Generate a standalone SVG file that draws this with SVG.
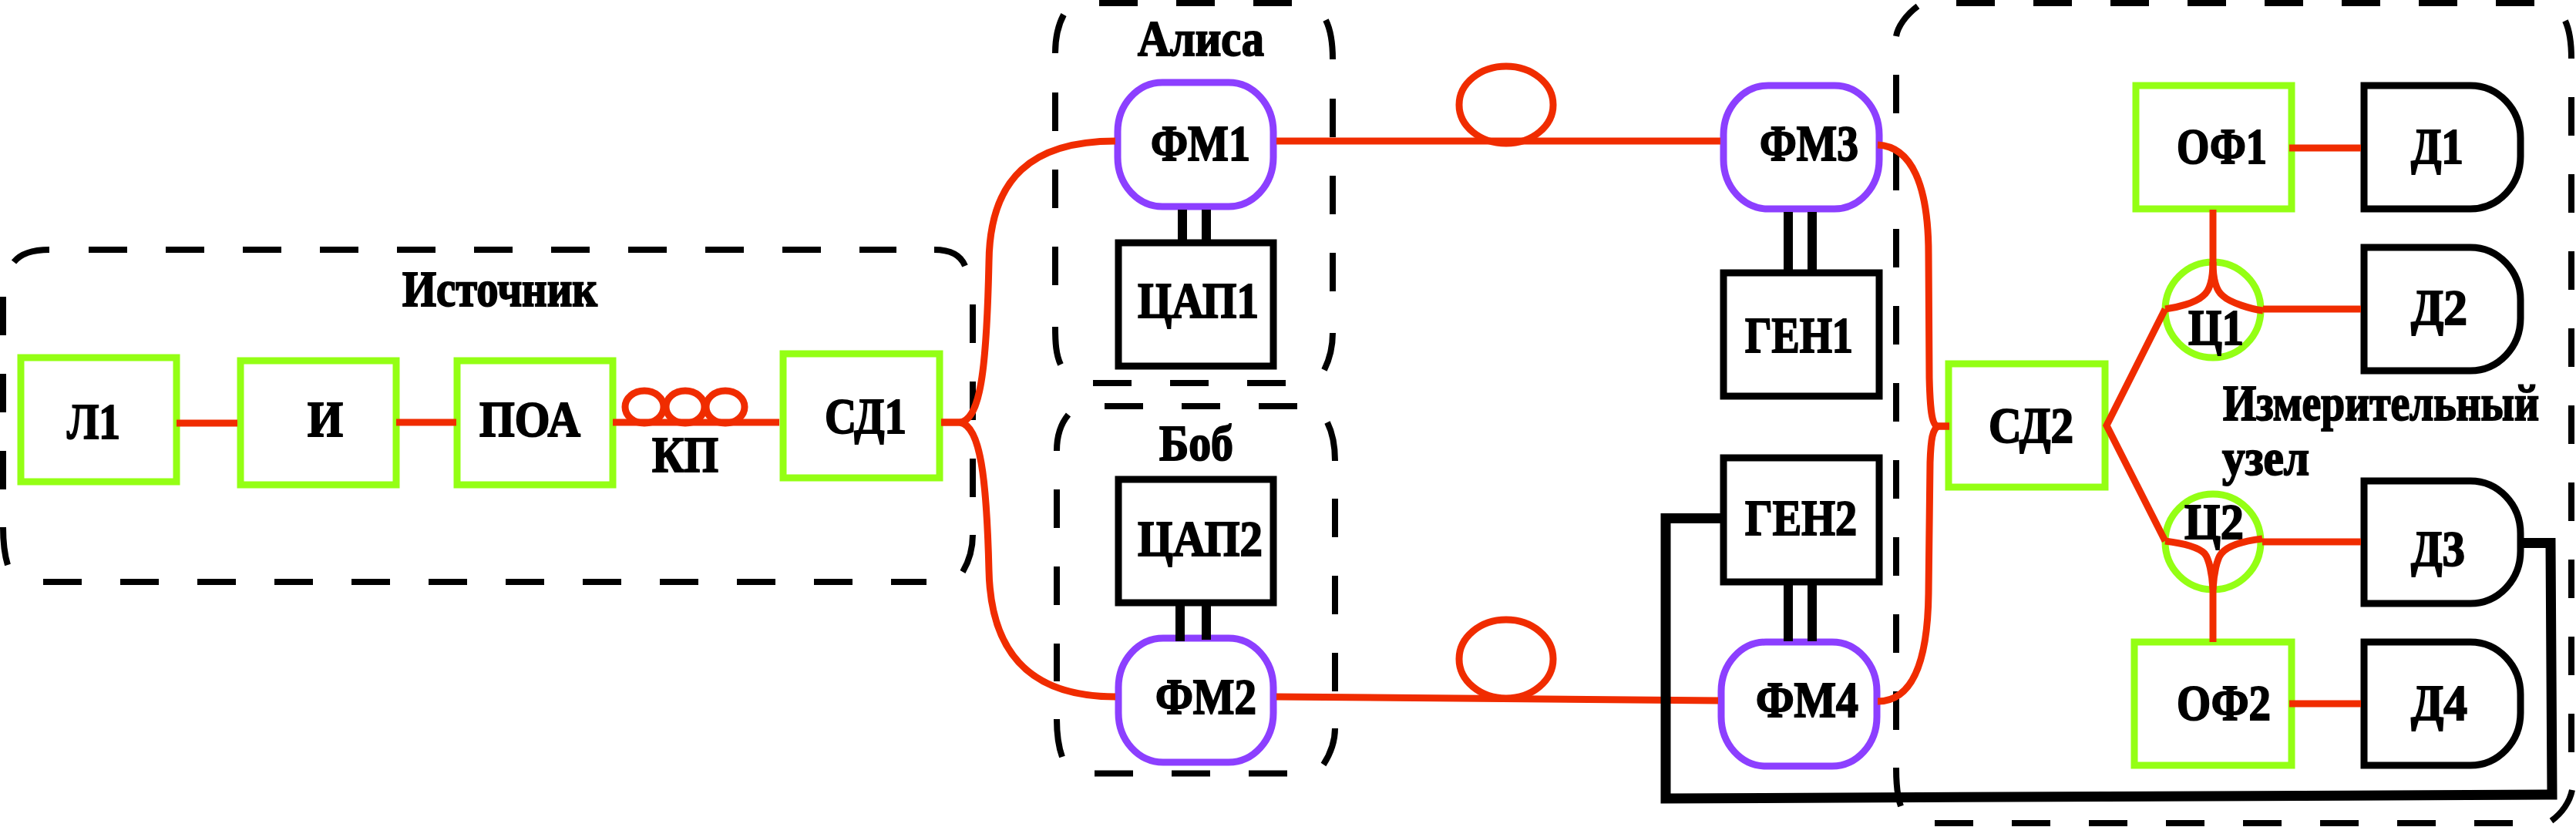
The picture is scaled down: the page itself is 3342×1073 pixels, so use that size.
<svg xmlns="http://www.w3.org/2000/svg" width="3342" height="1073" viewBox="0 0 3342 1073">
<style>
.t{font-family:"Liberation Serif","Times New Roman",serif;font-weight:700;font-size:66px;fill:#000;stroke:#000;stroke-width:2px}
.g{fill:none;stroke:#94ff14;stroke-width:9}
.p{fill:none;stroke:#8c3fff;stroke-width:9}
.k{fill:none;stroke:#000;stroke-width:9}
.d{fill:none;stroke:#000;stroke-width:8;stroke-dasharray:50 50}
.a{fill:none;stroke:#000;stroke-width:8}
.r{fill:none;stroke:#f02c00;stroke-width:9}
.w{fill:none;stroke:#000;stroke-width:12}
.b{fill:none;stroke:#000;stroke-width:13;stroke-linejoin:miter}
</style>
<rect width="3342" height="1073" fill="#fff"/>
<g id="source-box">
<path class="d" d="M115 324H1163"/><path class="d" d="M56 755H1202"/>
<path class="d" d="M4 385V650"/><path class="d" d="M1262 395V660"/>
<path class="a" d="M64 324C40 324 26 330 18 340"/><path class="a" d="M1212 324C1232 324 1246 330 1252 345"/>
<path class="a" d="M4 684C4 705 6 720 10 733"/><path class="a" d="M1262 694C1262 712 1256 730 1249 742"/>
<text class="t" x="522" y="397" textLength="253" lengthAdjust="spacingAndGlyphs">Источник</text>
</g>
<g id="alice-box">
<path class="d" d="M1426 4H1680"/><path class="d" d="M1418 497H1672"/>
<path class="d" d="M1369 120V373"/><path class="d" d="M1729 128V380"/>
<path class="a" d="M1380 19C1372 34 1369 50 1369 69"/><path class="a" d="M1720 26C1727 40 1729 58 1729 77"/>
<path class="a" d="M1369 424C1369 445 1370 460 1376 473"/><path class="a" d="M1729 432C1729 450 1725 466 1718 480"/>
<text class="t" x="1476" y="72" textLength="164" lengthAdjust="spacingAndGlyphs">Алиса</text>
</g>
<g id="bob-box">
<path class="d" d="M1433 527H1683"/><path class="d" d="M1420 1003.500H1670"/>
<path class="d" d="M1371 635V884"/><path class="d" d="M1732 647V897"/>
<path class="a" d="M1386 538C1376 550 1371 565 1371 585"/><path class="a" d="M1722 548C1729 562 1732 578 1732 598"/>
<path class="a" d="M1371 933C1371 952 1373 968 1378 982"/><path class="a" d="M1732 945C1732 962 1726 978 1717 992"/>
<text class="t" x="1504" y="597" textLength="96" lengthAdjust="spacingAndGlyphs">Боб</text>
</g>
<g id="measure-box">
<path class="d" d="M2538 4H3288"/><path class="d" d="M2510 1068H3260"/>
<path class="d" d="M2460 97V947"/><path class="d" d="M3336 126V976"/>
<path class="a" d="M2488 8C2472 20 2462 35 2460 47"/><path class="a" d="M3328 27C3334 40 3336 58 3336 76"/>
<path class="a" d="M2460 996C2460 1020 2462 1035 2466 1046"/><path class="a" d="M3337 1025C3334 1040 3324 1055 3310 1065"/>
<text class="t" x="2884" y="545" textLength="410" lengthAdjust="spacingAndGlyphs">Измерительный</text>
<text class="t" x="2883" y="616" textLength="113" lengthAdjust="spacingAndGlyphs">узел</text>
</g>
<g id="L1"><rect class="g" x="27" y="464" width="202" height="161"/><text class="t" x="87" y="569" textLength="69" lengthAdjust="spacingAndGlyphs">Л1</text></g>
<g id="I"><rect class="g" x="312" y="468" width="202" height="161"/><text class="t" x="399" y="566" textLength="46" lengthAdjust="spacingAndGlyphs">И</text></g>
<g id="POA"><rect class="g" x="593" y="468" width="202" height="161"/><text class="t" x="622" y="566" textLength="131" lengthAdjust="spacingAndGlyphs">ПОА</text></g>
<g id="KP"><text class="t" x="846" y="612" textLength="86" lengthAdjust="spacingAndGlyphs">КП</text></g>
<g id="SD1"><rect class="g" x="1016" y="459" width="203" height="161"/><text class="t" x="1070" y="562" textLength="106" lengthAdjust="spacingAndGlyphs">СД1</text></g>
<g id="FM1"><rect class="p" x="1450" y="107" width="202" height="161" rx="58" ry="64"/><text class="t" x="1493" y="208" textLength="129" lengthAdjust="spacingAndGlyphs">ФМ1</text></g>
<g id="DAC1"><rect class="k" x="1451" y="315" width="201" height="160"/><text class="t" x="1476" y="412" textLength="157" lengthAdjust="spacingAndGlyphs">ЦАП1</text></g>
<g id="DAC2"><rect class="k" x="1451" y="622" width="201" height="160"/><text class="t" x="1476" y="721" textLength="162" lengthAdjust="spacingAndGlyphs">ЦАП2</text></g>
<g id="FM2"><rect class="p" x="1451" y="828" width="201" height="161" rx="58" ry="64"/><text class="t" x="1499" y="926" textLength="131" lengthAdjust="spacingAndGlyphs">ФМ2</text></g>
<g id="FM3"><rect class="p" x="2236" y="111" width="202" height="160" rx="58" ry="64"/><text class="t" x="2283" y="208" textLength="128" lengthAdjust="spacingAndGlyphs">ФМ3</text></g>
<g id="GEN1"><rect class="k" x="2236" y="354" width="202" height="160"/><text class="t" x="2264" y="457" textLength="140" lengthAdjust="spacingAndGlyphs">ГЕН1</text></g>
<g id="GEN2"><rect class="k" x="2236" y="594" width="202" height="161"/><text class="t" x="2264" y="694" textLength="145" lengthAdjust="spacingAndGlyphs">ГЕН2</text></g>
<g id="FM4"><rect class="p" x="2233" y="833" width="202" height="161" rx="58" ry="64"/><text class="t" x="2278" y="930" textLength="133" lengthAdjust="spacingAndGlyphs">ФМ4</text></g>
<g id="SD2"><rect class="g" x="2528" y="472" width="203" height="160"/><text class="t" x="2580" y="574" textLength="110" lengthAdjust="spacingAndGlyphs">СД2</text></g>
<g id="OF1"><rect class="g" x="2771" y="111" width="202" height="160"/><text class="t" x="2824" y="212" textLength="117" lengthAdjust="spacingAndGlyphs">ОФ1</text></g>
<g id="OF2"><rect class="g" x="2769" y="833" width="204" height="160"/><text class="t" x="2824" y="934" textLength="122" lengthAdjust="spacingAndGlyphs">ОФ2</text></g>
<g id="C1"><circle class="g" cx="2871" cy="402" r="62"/><text class="t" x="2839" y="447" textLength="72" lengthAdjust="spacingAndGlyphs">Ц1</text></g>
<g id="C2"><circle class="g" cx="2871" cy="703" r="62"/><text class="t" x="2834" y="699" textLength="77" lengthAdjust="spacingAndGlyphs">Ц2</text></g>
<g id="D1"><path class="k" d="M3067 111H3205A65 68 0 0 1 3270 179V203A65 68 0 0 1 3205 271H3067Z"/><text class="t" x="3128" y="212" textLength="68" lengthAdjust="spacingAndGlyphs">Д1</text></g>
<g id="D2"><path class="k" d="M3067 321H3205A65 68 0 0 1 3270 389V413A65 68 0 0 1 3205 481H3067Z"/><text class="t" x="3128" y="421" textLength="73" lengthAdjust="spacingAndGlyphs">Д2</text></g>
<g id="D3"><path class="k" d="M3067 624H3205A65 68 0 0 1 3270 692V715A65 68 0 0 1 3205 783H3067Z"/><text class="t" x="3128" y="734" textLength="70" lengthAdjust="spacingAndGlyphs">Д3</text></g>
<g id="D4"><path class="k" d="M3067 833H3205A65 68 0 0 1 3270 901V925A65 68 0 0 1 3205 993H3067Z"/><text class="t" x="3128" y="934" textLength="73" lengthAdjust="spacingAndGlyphs">Д4</text></g>
<g id="connectors">
<path class="r" d="M229 549H308"/><path class="r" d="M514 548H592"/><path class="r" d="M795 548H1011"/>
<ellipse class="r" cx="836" cy="528" rx="25" ry="21"/><ellipse class="r" cx="889" cy="528" rx="25" ry="21"/><ellipse class="r" cx="941" cy="528" rx="25" ry="21"/>
<path class="r" d="M1221 548H1245C1272 545 1280 480 1283 340C1284 230 1340 183 1447 183"/>
<path class="r" d="M1221 548H1245C1272 552 1280 620 1283 740C1285 840 1330 904 1447 904"/>
<path class="r" d="M1656 183H2232"/><ellipse class="r" cx="1954" cy="136" rx="61" ry="50"/>
<path class="r" d="M1656 904L2229 909"/><ellipse class="r" cx="1954" cy="855" rx="61" ry="51"/>
<path class="w" d="M1534 272V311M1565 272V311"/><path class="w" d="M1531 786V832M1565 786V830"/>
<path class="w" d="M2320 275V350M2351 275V350"/><path class="w" d="M2320 759V832M2351 759V832"/>
<path class="r" d="M2436 188C2480 190 2502 240 2502 330L2503 490C2504 530 2506 550 2513 553H2529"/>
<path class="r" d="M2529 553H2515C2507 556 2505 570 2504 600L2502 770C2501 860 2480 910 2436 910"/>
<path class="r" d="M2809 401L2733 552L2809 702"/>
<path class="r" d="M2970 192H3063"/><path class="r" d="M2871 272V340"/>
<path class="r" d="M2871 340C2871 365 2866 378 2858 384C2848 393 2825 399 2809 401"/>
<path class="r" d="M2871 340C2871 365 2876 378 2884 384C2894 393 2920 401 2936 403"/>
<path class="r" d="M2936 401H3063"/>
<path class="r" d="M2871 765C2870 745 2866 725 2860 718C2850 708 2825 704 2809 702"/>
<path class="r" d="M2871 765C2872 745 2876 725 2882 718C2892 706 2918 701 2935 699"/>
<path class="r" d="M2935 703H3063"/><path class="r" d="M2871 765V833"/><path class="r" d="M2970 913H3063"/>
<path class="b" d="M3273 704.500H3309L3311 1031L2161 1036V672.500H2232"/>
</g>
</svg>
